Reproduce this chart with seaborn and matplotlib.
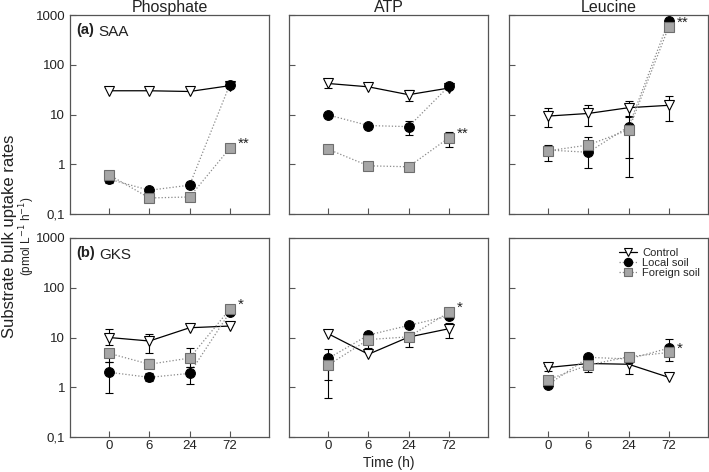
import numpy as np
import pandas as pd
import matplotlib
matplotlib.use("Agg")
import matplotlib.pyplot as plt
import seaborn as sns
from matplotlib.lines import Line2D

sns.set_style("ticks")
plt.rcParams['font.family'] = ['Liberation Sans', 'DejaVu Sans']

# ---------------- data ----------------
times = ["0", "6", "24", "72"]
substrates = ["Phosphate", "ATP", "Leucine"]
sites = ["SAA", "GKS"]
panel_tags = ["(a)", "(b)"]
treatments = ["Control", "Local soil", "Foreign soil"]

# mean values, one list per substrate (Phosphate, ATP, Leucine)
saa_control = [[30, 30, 29, 38], [42, 36, 25, 34], [9.3, 10.5, 13.7, 15.3]]
saa_local = [[0.50, 0.30, 0.38, 40], [9.8, 6.0, 5.7, 37], [1.93, 1.74, 5.7, 770]]
saa_foreign = [[0.61, 0.21, 0.22, 2.1], [2.0, 0.93, 0.89, 3.4], [1.86, 2.44, 4.9, 580]]
gks_control = [[10, 8.5, 15.7, 17], [11.9, 4.6, 10.2, 15], [2.5, 3.0, 2.9, 1.58]]
gks_local = [[2.0, 1.58, 1.9, 32], [3.8, 11.2, 17.5, 27], [1.13, 4.0, 3.7, 6.1]]
gks_foreign = [[4.8, 2.9, 3.86, 37], [2.8, 9.1, 10.3, 32], [1.43, 2.8, 4.1, 5.0]]

# error bar ends (low, high); NaN = no visible bar
nan = np.nan
saa_control_lo = [[nan, nan, nan, nan], [34, nan, 18.6, nan], [5.5, 6.0, 9.1, 7.5]]
saa_control_hi = [[nan, nan, nan, nan], [51, nan, 31, nan], [13.3, 15.5, 18.6, 24]]
saa_local_lo = [[0.42, 0.26, 0.33, nan], [nan, nan, 3.9, nan], [1.5, 0.83, 1.32, nan]]
saa_local_hi = [[0.58, 0.35, 0.44, nan], [nan, nan, 7.5, nan], [2.3, 2.2, 9.3, nan]]
saa_foreign_lo = [[0.50, nan, nan, nan], [1.75, 0.80, 0.80, 2.2], [1.16, 1.9, 0.56, nan]]
saa_foreign_hi = [[0.72, nan, nan, nan], [2.3, 1.05, 1.0, 4.5], [2.45, 3.5, 6.5, nan]]
gks_control_lo = [[7.0, 4.8, nan, nan], [nan, nan, 6.3, 10], [2.1, nan, 1.86, nan]]
gks_control_hi = [[15, 12, nan, nan], [nan, nan, 13, 20], [2.65, nan, 3.3, nan]]
gks_local_lo = [[0.76, 1.35, 1.17, nan], [1.4, 9.0, nan, nan], [nan, nan, nan, 3.4]]
gks_local_hi = [[3.2, 1.9, 2.6, nan], [6.0, 12.6, nan, nan], [nan, nan, nan, 9.5]]
gks_foreign_lo = [[3.2, 2.4, 2.5, nan], [0.6, 6.1, nan, nan], [nan, 2.05, nan, nan]]
gks_foreign_hi = [[5.8, 3.7, 6.1, nan], [4.5, 12, nan, nan], [nan, 3.3, nan, nan]]

# significance stars: [site][substrate]
stars = [["**", "**", "**"], ["*", "*", "*"]]

yticks = [0.1, 1, 10, 100, 1000]
ytick_labels = ["0,1", "1", "10", "100", "1000"]

# ---------------- styles ----------------
styles = {
    "Control": dict(marker="v", mfc="white", mec="black", ms=7.5,
                    ls="-", lc="black", z=3),
    "Local soil": dict(marker="o", mfc="black", mec="black", ms=7,
                       ls=(0, (1, 1.6)), lc="#8a8a8a", z=4),
    "Foreign soil": dict(marker="s", mfc="#a6a6a6", mec="#6e6e6e", ms=6.5,
                         ls=(0, (1, 1.6)), lc="#8a8a8a", z=5),
}

data = {
    ("SAA", "Control"): (saa_control, saa_control_lo, saa_control_hi),
    ("SAA", "Local soil"): (saa_local, saa_local_lo, saa_local_hi),
    ("SAA", "Foreign soil"): (saa_foreign, saa_foreign_lo, saa_foreign_hi),
    ("GKS", "Control"): (gks_control, gks_control_lo, gks_control_hi),
    ("GKS", "Local soil"): (gks_local, gks_local_lo, gks_local_hi),
    ("GKS", "Foreign soil"): (gks_foreign, gks_foreign_lo, gks_foreign_hi),
}

W, H = 709, 472
fig = plt.figure(figsize=(W / 100, H / 100), dpi=100)

col_left = [70, 289, 509]
col_w = 199
row_top = [15, 238]
row_h = 199

spine_col = "#555555"
txt_col = "#222222"
pos = np.arange(len(times))

for r, site in enumerate(sites):
    for c, sub in enumerate(substrates):
        ax = fig.add_axes([col_left[c] / W, 1 - (row_top[r] + row_h) / H, col_w / W, row_h / H])
        for tr in treatments:
            vals, lo, hi = data[(site, tr)]
            v = np.array(vals[c], dtype=float)
            l = np.array(lo[c], dtype=float)
            h = np.array(hi[c], dtype=float)
            st = styles[tr]
            m = ~np.isnan(l)
            if m.any():
                ax.errorbar(pos[m], v[m], yerr=[v[m] - l[m], h[m] - v[m]], fmt="none",
                            ecolor="black", elinewidth=0.8, capsize=3, capthick=0.8,
                            zorder=st["z"] - 0.5)
            df = pd.DataFrame({"pos": pos, "value": v})
            sns.lineplot(data=df, x="pos", y="value", ax=ax, color=st["lc"],
                         linestyle=st["ls"], linewidth=0.9, zorder=st["z"] - 0.2,
                         legend=False)
            ax.plot(pos, v, linestyle="none", marker=st["marker"], markersize=st["ms"],
                    markerfacecolor=st["mfc"], markeredgecolor=st["mec"],
                    markeredgewidth=0.8, zorder=st["z"])
        # stars next to the foreign-soil point at 72 h
        ystar = data[(site, "Foreign soil")][0][c][3]
        ax.annotate(stars[r][c], xy=(3, ystar), xytext=(6, 3), textcoords="offset points",
                    fontsize=11, ha="left", va="center", color=txt_col)

        ax.set_yscale("log")
        ax.set_ylim(0.1, 1000)
        ax.set_xlim(-0.975, 3.975)
        ax.set_xticks(pos)
        ax.set_yticks(yticks)
        ax.yaxis.set_minor_locator(matplotlib.ticker.NullLocator())
        ax.tick_params(direction="in", length=4, width=0.8, color=spine_col, labelsize=9.5,
                       labelcolor=txt_col)
        ax.tick_params(axis="x", pad=2.5)
        if c == 0:
            ax.set_yticklabels(ytick_labels)
        else:
            ax.set_yticklabels([])
        if r == 1:
            ax.set_xticklabels(times, fontsize=9.5)
        else:
            ax.set_xticklabels([])
        ax.set_xlabel("")
        ax.set_ylabel("")
        for s in ax.spines.values():
            s.set_color(spine_col)
            s.set_linewidth(0.9)
        if r == 0:
            ax.set_title(sub, fontsize=11.5, pad=2, color=txt_col)
        if c == 0:
            ax.text(0.03, 0.96, panel_tags[r], transform=ax.transAxes, fontsize=10.5,
                    fontweight="bold", va="top", ha="left", color=txt_col)
            ax.text(0.145, 0.95, site, transform=ax.transAxes, fontsize=11,
                    va="top", ha="left", color=txt_col)
        if r == 1 and c == 2:
            handles = []
            for tr in treatments:
                st = styles[tr]
                handles.append(Line2D([0], [0], color=st["lc"], linestyle=st["ls"], linewidth=0.9,
                                      marker=st["marker"], markersize=st["ms"] * 0.85,
                                      markerfacecolor=st["mfc"], markeredgecolor=st["mec"],
                                      markeredgewidth=0.8))
            ax.legend(handles, treatments, loc="upper right", bbox_to_anchor=(1.0, 0.99),
                      frameon=False, fontsize=8, handlelength=1.6, handletextpad=0.5,
                      labelspacing=0.0, borderaxespad=0.3)

fig.text((289 + 199 / 2) / W, 1 - 463 / H, "Time (h)", ha="center", va="center",
         fontsize=10, color=txt_col)
fig.text(10 / W, 1 - 236 / H, "Substrate bulk uptake rates", rotation=90, ha="center",
         va="center", fontsize=12, color=txt_col)
fig.text(27 / W, 1 - 236 / H, r"(pmol L$^{-1}$ h$^{-1}$)", rotation=90, ha="center",
         va="center", fontsize=8.5, color=txt_col)

fig.savefig("out.png", dpi=100)
